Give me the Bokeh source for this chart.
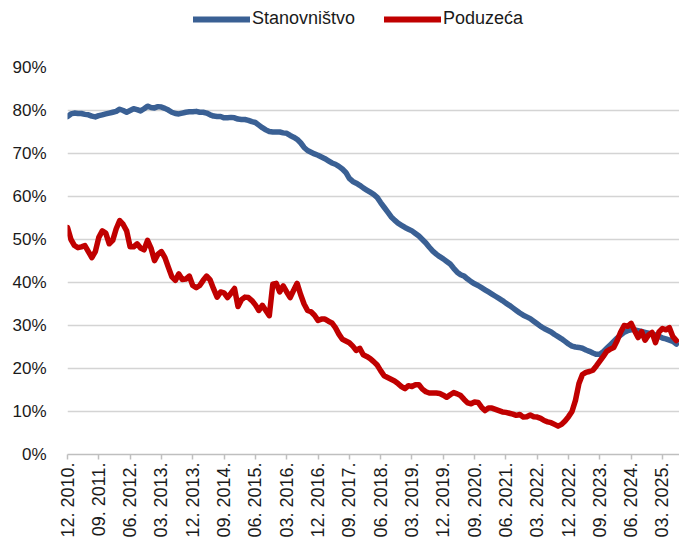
from bokeh.plotting import figure
from bokeh.models import Range1d, FixedTicker, Legend
from bokeh.layouts import column
from bokeh.embed import file_html
from bokeh.resources import INLINE
import math

# Monthly shares (%), Dec 2010 .. Jul 2025
stanovnistvo = [
    78.6, 79.2, 79.4, 79.3, 79.3, 79.1, 79.0, 78.7, 78.5, 78.8, 79.0, 79.2,
    79.4, 79.6, 79.8, 80.3, 80.0, 79.6, 80.0, 80.4, 80.2, 79.9, 80.4, 81.0,
    80.7, 80.6, 80.9, 80.8, 80.5, 80.1, 79.6, 79.3, 79.2, 79.4, 79.6, 79.7,
    79.7, 79.8, 79.6, 79.6, 79.4, 79.0, 78.7, 78.6, 78.6, 78.3, 78.3, 78.4,
    78.3, 78.0, 77.9, 77.9, 77.7, 77.4, 77.2, 76.6, 76.0, 75.5, 75.1, 75.0,
    75.0, 75.0, 74.8, 74.7, 74.2, 73.8, 73.3, 72.5, 71.4, 70.7, 70.3, 69.9,
    69.6, 69.2, 68.8, 68.3, 67.8, 67.5, 67.0, 66.4, 65.6, 64.2, 63.5, 63.1,
    62.6, 62.0, 61.5, 61.0, 60.5, 59.8, 58.6, 57.5, 56.4, 55.3, 54.5, 53.8,
    53.3, 52.8, 52.4, 52.0, 51.4, 50.8, 50.0, 49.2, 48.2, 47.3, 46.6, 46.0,
    45.5, 44.9, 44.3, 43.3, 42.4, 41.8, 41.5, 40.8, 40.2, 39.7, 39.3, 38.8,
    38.3, 37.8, 37.3, 36.8, 36.3, 35.8, 35.2, 34.7, 34.1, 33.5, 32.9, 32.4,
    32.0, 31.6, 31.0, 30.4, 29.8, 29.3, 28.9, 28.5, 27.9, 27.4, 26.9, 26.3,
    25.7, 25.2, 25.0, 24.9, 24.7, 24.3, 24.0, 23.6, 23.3, 23.3, 23.9, 24.7,
    25.5, 26.3, 27.1, 27.8, 28.4, 28.8, 29.0, 29.0, 28.8, 28.6, 28.4, 28.2,
    28.0, 27.8, 27.5, 27.1, 26.9, 26.6, 26.3, 25.7,
]

poduzeca = [
    52.8, 50.0, 48.6, 48.1, 48.3, 48.6, 47.2, 45.8, 47.2, 50.5, 52.0, 51.5,
    49.0, 49.8, 52.5, 54.4, 53.5, 52.0, 48.3, 48.3, 49.0, 48.0, 47.6, 49.8,
    48.0, 45.1, 46.6, 47.2, 45.8, 43.5, 41.3, 40.5, 42.0, 40.7, 40.8, 41.5,
    39.3, 38.8, 39.3, 40.5, 41.5, 40.6, 38.5, 36.6, 37.8, 37.6, 36.5, 37.5,
    38.6, 34.4, 36.0, 36.6, 36.5, 35.8, 34.8, 33.5, 34.7, 33.5, 32.3, 39.6,
    39.8, 37.8, 39.2, 37.8, 36.5, 38.2, 39.8, 37.2, 35.0, 33.5, 33.2, 32.4,
    31.2, 31.5, 31.5, 31.0, 30.6, 29.5, 28.0, 26.8, 26.4, 26.0, 25.2, 24.2,
    24.7, 23.2, 22.8, 22.3, 21.6, 20.8, 19.5, 18.3, 17.9, 17.5, 17.1, 16.5,
    15.8, 15.3, 16.0, 15.8, 16.2, 16.2, 15.2, 14.6, 14.3, 14.3, 14.3, 14.2,
    13.8, 13.3, 13.9, 14.4, 14.1, 13.7, 12.8, 12.0, 11.8, 12.2, 12.1, 11.0,
    10.2, 10.8, 10.8, 10.5, 10.2, 9.9, 9.8, 9.6, 9.4, 9.1, 9.3, 8.7,
    8.8, 9.2, 8.8, 8.7, 8.4, 7.9, 7.6, 7.4, 7.0, 6.6, 7.0, 7.8,
    8.8, 10.0, 12.6, 16.5, 18.6, 19.1, 19.3, 19.6, 20.6, 21.7, 22.8, 24.0,
    24.5, 24.9, 26.5, 28.5, 30.0, 29.8, 30.5, 28.8, 27.2, 28.6, 26.6, 27.8,
    28.4, 26.0, 28.5, 29.3, 29.0, 29.5, 27.4, 26.5,
]

series_names = ["Stanovništvo", "Poduzeća"]
tick_labels = ["12. 2010.", "09. 2011.", "06. 2012.", "03. 2013.", "12. 2013.",
               "09. 2014.", "06. 2015.", "03. 2016.", "12. 2016.", "09. 2017.",
               "06. 2018.", "03. 2019.", "12. 2019.", "09. 2020.", "06. 2021.",
               "03. 2022.", "12. 2022.", "09. 2023.", "06. 2024.", "03. 2025."]
tick_step_months = 9
y_ticks = [0, 10, 20, 30, 40, 50, 60, 70, 80, 90]

months = list(range(len(stanovnistvo)))
tick_pos = [i * tick_step_months for i in range(len(tick_labels))]

FONT = "Liberation Sans"
TXT = "#1a1a1a"
BLUE = "#3A6094"
RED = "#C00000"
LW = 5.5

# ---------- legend strip (its frame is aligned with the chart frame) ----------
lg = figure(width=679, height=36, output_backend="svg", toolbar_location=None,
            x_range=Range1d(-1, -0.5), y_range=Range1d(-1, -0.5),
            min_border_left=67, min_border_right=0, min_border_top=0,
            min_border_bottom=0)
lg.axis.visible = False
lg.grid.visible = False
lg.outline_line_color = None
lb = lg.line(months, stanovnistvo, line_color=BLUE, line_width=6, line_cap="round")
lr = lg.line(months, poduzeca, line_color=RED, line_width=6, line_cap="round")
legend = Legend(items=[(series_names[0], [lb]), (series_names[1], [lr])],
                orientation="horizontal", location=(126, 7),
                glyph_width=57, glyph_height=20, label_standoff=2, spacing=29,
                padding=0, margin=0, border_line_color=None,
                background_fill_alpha=0,
                label_text_font=FONT, label_text_font_size="18px",
                label_text_color=TXT)
lg.add_layout(legend, "center")

# ---------- main chart ----------
p = figure(width=679, height=508, output_backend="svg", toolbar_location=None,
           x_range=Range1d(0, 175.9), y_range=Range1d(0, 90),
           min_border_left=67, min_border_right=0, min_border_top=31,
           min_border_bottom=90)
p.outline_line_color = None
p.background_fill_color = "white"

p.line(months, stanovnistvo, line_color=BLUE, line_width=LW,
       line_join="round", line_cap="round")
p.line(months, poduzeca, line_color=RED, line_width=LW,
       line_join="round", line_cap="round")

# grid
p.xgrid.grid_line_color = None
p.ygrid.ticker = FixedTicker(ticks=y_ticks)
p.ygrid.grid_line_color = "#d4d4d4"
p.ygrid.grid_line_width = 1.5

# y axis
p.yaxis.ticker = FixedTicker(ticks=y_ticks)
p.yaxis.major_label_overrides = {v: f"{v}%" for v in y_ticks}
p.yaxis.axis_line_color = None
p.yaxis.major_tick_line_color = None
p.yaxis.minor_tick_line_color = None
p.yaxis.major_label_standoff = 15
p.yaxis.major_label_text_font = FONT
p.yaxis.major_label_text_font_size = "17px"
p.yaxis.major_label_text_color = TXT

# x axis
p.xaxis.ticker = FixedTicker(ticks=tick_pos)
p.xaxis.major_label_overrides = {pos: lab for pos, lab in zip(tick_pos, tick_labels)}
p.xaxis.major_label_orientation = math.pi / 2
p.xaxis.axis_line_color = "#bfbfbf"
p.xaxis.axis_line_width = 1.5
p.xaxis.major_tick_line_color = "#bfbfbf"
p.xaxis.major_tick_line_width = 1.5
p.xaxis.major_tick_in = 0
p.xaxis.major_tick_out = 5
p.xaxis.minor_tick_line_color = None
p.xaxis.major_label_standoff = 3
p.xaxis.major_label_text_font = FONT
p.xaxis.major_label_text_font_size = "18px"
p.xaxis.major_label_text_color = TXT

layout = column(lg, p, spacing=0)
open("out.html", "w").write(file_html(layout, INLINE))
